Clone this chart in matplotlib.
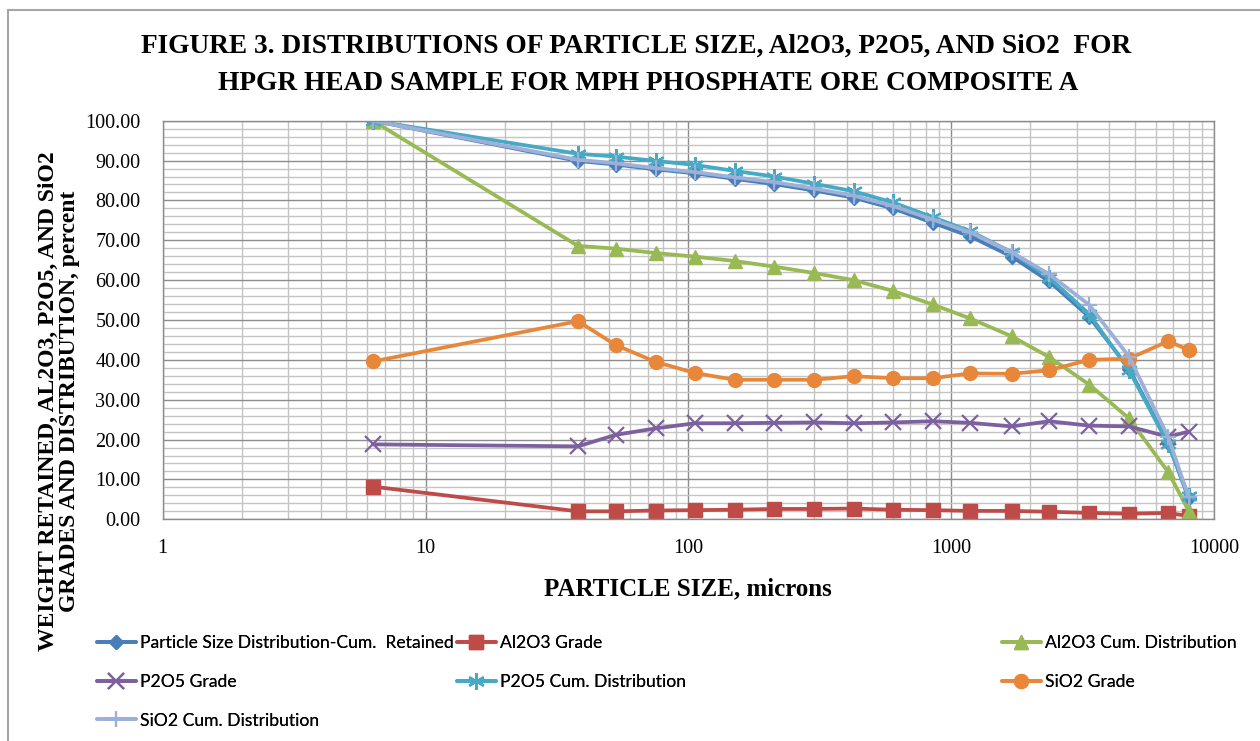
import matplotlib
matplotlib.use("Agg")
import matplotlib.pyplot as plt
from matplotlib.ticker import FixedLocator, FormatStrFormatter, NullFormatter
from matplotlib.lines import Line2D

# particle size, microns
size_um = [6.3, 38, 53, 75, 106, 150, 212, 300, 425, 600, 850, 1180, 1700, 2360, 3350, 4750, 6700, 8000]

psd_cum_retained = [100.0, 89.9, 89.0, 87.8, 86.8, 85.4, 84.1, 82.5, 80.7, 78.0, 74.4, 71.0, 65.9, 59.7, 50.8, 37.8, 19.1, 5.3]
al2o3_grade = [8.2, 2.0, 2.0, 2.2, 2.3, 2.4, 2.6, 2.6, 2.7, 2.4, 2.3, 2.1, 2.1, 1.9, 1.6, 1.4, 1.6, 0.8]
al2o3_cum = [100.0, 68.6, 67.9, 66.8, 65.9, 64.8, 63.4, 61.8, 60.0, 57.3, 53.9, 50.4, 45.9, 40.7, 33.8, 25.3, 11.8, 2.2]
p2o5_grade = [18.8, 18.3, 21.2, 22.8, 24.1, 24.1, 24.2, 24.3, 24.1, 24.3, 24.6, 24.2, 23.3, 24.6, 23.5, 23.3, 20.7, 22.0]
p2o5_cum = [100.0, 91.7, 91.0, 89.9, 88.9, 87.4, 86.0, 84.2, 82.3, 79.5, 75.8, 72.3, 67.0, 60.6, 51.5, 37.4, 18.8, 5.8]
sio2_grade = [39.6, 49.7, 43.7, 39.5, 36.7, 35.0, 35.0, 35.0, 35.9, 35.4, 35.4, 36.6, 36.5, 37.4, 40.0, 40.3, 44.7, 42.5]
sio2_cum = [100.0, 90.2, 89.3, 88.1, 87.1, 85.8, 84.6, 83.0, 81.2, 78.6, 75.2, 72.0, 67.0, 61.5, 53.8, 40.8, 20.6, 5.6]

labels = ["Particle Size Distribution-Cum.  Retained", "Al2O3 Grade", "Al2O3 Cum. Distribution",
          "P2O5 Grade", "P2O5 Cum. Distribution", "SiO2 Grade", "SiO2 Cum. Distribution"]

series = [psd_cum_retained, al2o3_grade, al2o3_cum, p2o5_grade, p2o5_cum, sio2_grade, sio2_cum]
colors = ["#4A7EBB", "#BE4B48", "#98B954", "#7D60A0", "#46AAC5", "#E8873A", "#9DB0D8"]
markers = ["D", "s", "^", "x", (6, 2, 0), "o", "+"]
msizes = [7, 10, 10, 11, 12, 10, 12]

serif = ["Liberation Serif", "DejaVu Serif"]
sans = ["Lato", "DejaVu Sans"]

fig = plt.figure(figsize=(12.6, 7.41), dpi=100)
ax = fig.add_axes([162.7 / 1260, 1 - 519.3 / 741, (1214 - 162.7) / 1260, (519.3 - 120.7) / 741])

handles = []
for vals, lab, c, m, ms in zip(series, labels, colors, markers, msizes):
    mew = 1.6 if m in ("x", "+") or isinstance(m, tuple) else 1.0
    h, = ax.plot(size_um, vals, color=c, lw=2.7, marker=m, ms=ms, mfc=c, mec=c, mew=mew,
                 label=lab, solid_joinstyle="round", solid_capstyle="round")
    handles.append(h)

ax.set_xscale("log")
ax.set_xlim(1, 10000)
ax.set_ylim(0, 100)
ax.yaxis.set_major_locator(FixedLocator(range(0, 101, 10)))
ax.yaxis.set_minor_locator(FixedLocator(range(0, 101, 2)))
ax.yaxis.set_major_formatter(FormatStrFormatter("%.2f"))
ax.xaxis.set_major_locator(FixedLocator([1, 10, 100, 1000, 10000]))
ax.xaxis.set_major_formatter(FormatStrFormatter("%d"))
minor_x = [m * 10 ** d for d in range(4) for m in range(2, 10)]
ax.xaxis.set_minor_locator(FixedLocator(minor_x))
ax.xaxis.set_minor_formatter(NullFormatter())

ax.grid(which="major", color="#8C8C8C", lw=1.0)
ax.grid(which="minor", color="#C4C4C4", lw=1.0)
ax.set_axisbelow(True)
for s in ax.spines.values():
    s.set_color("#8C8C8C")
    s.set_linewidth(1.0)
ax.tick_params(which="both", length=0)
ax.tick_params(axis="y", pad=16)
ax.tick_params(axis="x", pad=14)
for t in ax.get_xticklabels() + ax.get_yticklabels():
    t.set_family(serif)
    t.set_fontsize(14.5)

ax.set_xlabel("PARTICLE SIZE, microns", family=serif, fontsize=18, fontweight="bold", labelpad=14)

fig.text(59 / 1260, 1 - 401 / 741, "WEIGHT RETAINED, AL2O3, P2O5, AND SiO2\nGRADES AND DISTRIBUTION, percent",
         rotation=90, ha="center", va="center", multialignment="center", family=serif,
         fontsize=17, fontweight="bold", linespacing=1.0)

fig.text(636 / 1260, 1 - 46 / 741, "FIGURE 3. DISTRIBUTIONS OF PARTICLE SIZE, Al2O3, P2O5, AND SiO2  FOR",
         ha="center", va="center", family=serif, fontsize=19.7, fontweight="bold")
fig.text(648 / 1260, 1 - 83 / 741, "HPGR HEAD SAMPLE FOR MPH PHOSPHATE ORE COMPOSITE A",
         ha="center", va="center", family=serif, fontsize=19.7, fontweight="bold")

# legend in three columns, filled row by row like the original
cols = [[0, 3, 6], [1, 4], [2, 5]]
col_x = [97, 457, 1002]
for idx, x0 in zip(cols, col_x):
    leg = fig.legend([handles[i] for i in idx], [labels[i] for i in idx],
                     loc="upper left", bbox_to_anchor=(x0 / 1260, 1 - 635 / 741),
                     frameon=False, numpoints=1, handlelength=2.2, handletextpad=0.28,
                     labelspacing=1.3, borderpad=0, borderaxespad=0,
                     prop={"family": sans, "size": 12.6})
    fig.add_artist(leg)

# outer chart border (left and top edges visible)
fig.add_artist(Line2D([8 / 1260, 8 / 1260], [0, 1 - 10 / 741], transform=fig.transFigure, color="#A6A6A6", lw=1.5))
fig.add_artist(Line2D([8 / 1260, 1], [1 - 10 / 741, 1 - 10 / 741], transform=fig.transFigure, color="#A6A6A6", lw=1.5))

fig.savefig("out.png", dpi=100)
